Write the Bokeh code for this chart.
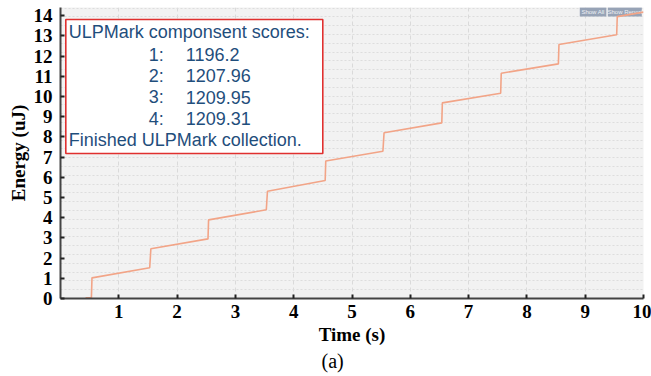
from bokeh.plotting import figure
from bokeh.models import Range1d, FixedTicker, SingleIntervalTicker, BoxAnnotation, Label, Title
from bokeh.embed import file_html
from bokeh.resources import INLINE

# ---- data ----
time_s = [0.43, 0.53, 0.54, 1.53, 1.55, 2.53, 2.54, 3.53, 3.55, 4.54, 4.55,
          5.53, 5.55, 6.54, 6.55, 7.55, 7.56, 8.54, 8.55, 9.54, 9.55, 10.0]
energy_uj = [0.03, 0.03, 1.02, 1.52, 2.46, 2.95, 3.89, 4.39, 5.31, 5.84, 6.80,
             7.29, 8.20, 8.69, 9.68, 10.16, 11.15, 11.61, 12.57, 13.05, 13.95, 14.17]
x_ticks = [1, 2, 3, 4, 5, 6, 7, 8, 9, 10]
component_ids = ["1:", "2:", "3:", "4:"]
component_scores = ["1196.2", "1207.96", "1209.95", "1209.31"]
title_line = "ULPMark componsent  scores:"
footer_line = "Finished ULPMark collection."
buttons = ["Show All", "Show Report"]

SERIF = "Liberation Serif"
SANS = "Liberation Sans"
TXT_BLUE = "#1f4e7c"

p = figure(width=651, height=376, output_backend="svg", toolbar_location=None,
           x_range=Range1d(0, 10), y_range=Range1d(0, 14.4),
           min_border_left=60, min_border_right=8, min_border_top=7, min_border_bottom=78)
p.background_fill_color = "#f2f2f2"
p.border_fill_color = "white"
p.outline_line_color = None

# axes
p.xaxis.ticker = FixedTicker(ticks=x_ticks)
p.yaxis.ticker = SingleIntervalTicker(interval=1, num_minor_ticks=0)
for ax in (p.xaxis[0], p.yaxis[0]):
    ax.axis_line_color = "#444444"
    ax.axis_line_width = 2
    ax.major_tick_line_color = "#222222"
    ax.major_tick_line_width = 2
    ax.major_tick_in = 4
    ax.major_tick_out = 0
    ax.minor_tick_line_color = None
    ax.major_label_text_font = SERIF
    ax.major_label_text_font_style = "bold"
    ax.major_label_text_font_size = "19px"
    ax.major_label_text_color = "black"
    ax.axis_label_text_font = SERIF
    ax.axis_label_text_font_style = "bold"
    ax.axis_label_text_font_size = "19px"
    ax.axis_label_text_color = "black"
p.xaxis.axis_label = "Time (s)"
p.yaxis.axis_label = "Energy (uJ)"
p.xaxis.major_label_standoff = 6
p.xaxis.axis_label_standoff = 3
p.yaxis.major_label_standoff = 8
p.yaxis.axis_label_standoff = 2

# grid
p.xgrid.grid_line_color = "#dadada"
p.xgrid.grid_line_dash = "4 3"
p.ygrid.ticker = SingleIntervalTicker(interval=0.4355, num_minor_ticks=0)
p.ygrid.grid_line_color = "#dddddd"
p.ygrid.grid_line_dash = "2 2"

# "buttons" of the screenshot
btn_left = [8.907, 9.388]
btn_right = [9.363, 9.971]
for name, l, r in zip(buttons, btn_left, btn_right):
    p.add_layout(BoxAnnotation(left=l, right=r, top=14.41, bottom=13.95,
                               fill_color="#97a3b6", fill_alpha=1, line_color=None,
                               level="underlay"))
    p.add_layout(Label(x=(l + r) / 2, y=14.18, text=name, text_align="center",
                       text_baseline="middle", text_font_size="6px",
                       text_color="#eef1f5", text_font=SANS, level="underlay"))

# energy trace
p.line(time_s, energy_uj, line_color="#f2a487", line_width=1.6)

# score box
p.add_layout(BoxAnnotation(left=0.091, right=4.499, top=13.805, bottom=7.175,
                           fill_color="white", fill_alpha=1,
                           line_color="#e0302f", line_alpha=1, line_width=1.6,
                           level="annotation"))
common = dict(text_font=SANS, text_font_size="18px", text_color=TXT_BLUE,
              text_baseline="middle", text_align="left")
p.add_layout(Label(x=0.142, y=13.21, text=title_line, **common))
for i, (cid, sc) in enumerate(zip(component_ids, component_scores)):
    yy = 12.07 - i * 1.055
    p.add_layout(Label(x=1.515, y=yy, text=cid, **common))
    p.add_layout(Label(x=2.149, y=yy, text=sc, **common))
p.add_layout(Label(x=0.142, y=7.82, text=footer_line, **common))

# sub-caption below the axis
p.add_layout(Title(text="(a)", align="left", offset=261, standoff=0,
                   text_font=SERIF, text_font_size="20px", text_font_style="normal",
                   text_color="black"), "below")

open("out.html", "w").write(file_html(p, INLINE))
